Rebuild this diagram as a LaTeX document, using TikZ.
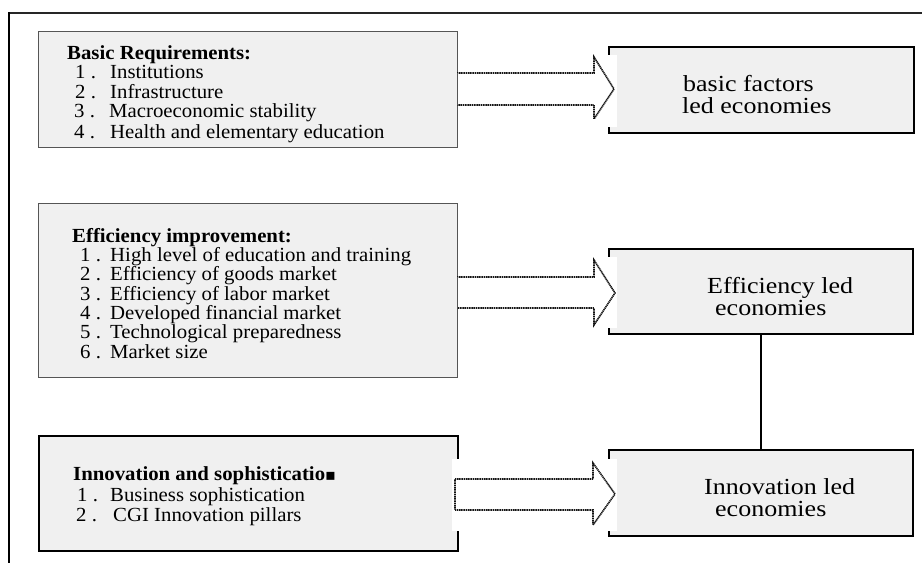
\documentclass[tikz,border=0pt]{standalone}
\usepackage{fontspec}
\setmainfont{Liberation Serif}
\newfontfamily\listfont[FakeStretch=1.04]{Liberation Serif}
\newfontfamily\widefont[FakeStretch=1.13]{Liberation Serif}
\newfontfamily\symfont{DejaVu Sans}
\definecolor{boxfill}{RGB}{240,240,240}
\definecolor{boxline}{RGB}{85,85,85}
\definecolor{arrline}{RGB}{20,20,20}
\begin{document}
\begin{tikzpicture}[x=1pt,y=-1pt,
  graybox/.style={draw=boxline, line width=1pt, fill=boxfill, inner sep=0pt, anchor=north west},
  darkbox/.style={draw=black, line width=1.8pt, fill=boxfill, inner sep=0pt, anchor=north west},
  listtxt/.style={anchor=base west, inner sep=0pt, font=\listfont\fontsize{20}{24}\selectfont},
  headtxt/.style={anchor=base west, inner sep=0pt, font=\listfont\fontsize{20}{24}\selectfont\bfseries},
  bigtxt/.style={anchor=base west, inner sep=0pt, font=\widefont\fontsize{23}{28}\selectfont},
  blockarrow/.style={draw=arrline, dash pattern=on 1.2pt off 0.6pt, line width=1.6pt, fill=white},
  linkline/.style={draw=black, line width=1.5pt}]
\useasboundingbox (0,0) rectangle (922,563);
% outer frame
\draw[line width=1.8pt, black!85] (9,13) -- (922,13);
\draw[line width=1.8pt, black] (9,12.1) -- (9,563);

% left boxes
\node[graybox, minimum width=419pt, minimum height=116pt] (b1) at (38,31) {};
\node[graybox, minimum width=419pt, minimum height=174pt] (b3) at (38,203) {};
\node[darkbox, minimum width=419pt, minimum height=115pt] (b6) at (38,435) {};
% right boxes
\node[darkbox, minimum width=305pt, minimum height=86pt] (b2) at (608,46) {};
\node[darkbox, minimum width=304pt, minimum height=85pt] (b4) at (608,248) {};
\node[darkbox, minimum width=304pt, minimum height=86pt] (b5) at (608,449) {};

% connector
\draw[linkline] (b4.south) -- (b5.north);

% arrows (white ground, then block arrow)
\fill[white] (457.6,55) rectangle (617,127);
\draw[blockarrow] (457,73) -- (594,73) -- (594,57) -- (614,89) -- (594,119) -- (594,105) -- (457,105);
\draw[boxline, line width=0.7pt] (457,73) -- (457,105);

\fill[white] (457.6,257) rectangle (617,328);
\draw[blockarrow] (457,277) -- (594,277) -- (594,260) -- (615,293) -- (594,325) -- (594,308) -- (457,308);
\draw[boxline, line width=0.7pt] (457,277) -- (457,308);

\fill[white] (452,459) rectangle (617,531);
\draw[blockarrow] (455,479) -- (593,479) -- (593,463) -- (615,494) -- (593,525) -- (593,510) -- (455,510) -- cycle;

% box 1 text
\node[headtxt] (h1) at (67,59) {Basic Requirements:};
\node[listtxt] (n11) at (75,78) {1 .};   \node[listtxt] (t11) at (110,78) {Institutions};
\node[listtxt] (n12) at (75,98) {2 .};   \node[listtxt] (t12) at (110,98) {Infrastructure};
\node[listtxt] (n13) at (74,117) {3 .};  \node[listtxt] (t13) at (109,117) {Macroeconomic stability};
\node[listtxt] (n14) at (74,138) {4 .};  \node[listtxt] (t14) at (110,138) {Health and elementary education};

% box 3 text
\node[headtxt] (h3) at (72,242) {Efficiency improvement:};
\node[listtxt] (n31) at (80,261) {1 .};  \node[listtxt] (t31) at (110,261) {High level of education and training};
\node[listtxt] (n32) at (80,280.5) {2 .};\node[listtxt] (t32) at (110,280.5) {Efficiency of goods market};
\node[listtxt] (n33) at (80,300) {3 .};  \node[listtxt] (t33) at (110,300) {Efficiency of labor market};
\node[listtxt] (n34) at (80,319.5) {4 .};\node[listtxt] (t34) at (110,319.5) {Developed financial market};
\node[listtxt] (n35) at (80,338.5) {5 .};\node[listtxt] (t35) at (110,338.5) {Technological preparedness};
\node[listtxt] (n36) at (80,358.5) {6 .};\node[listtxt] (t36) at (110,358.5) {Market size};

% box 6 text
\node[headtxt] (h6) at (73,480.5) {Innovation and sophisticatio{\symfont\fontsize{16}{20}\selectfont ▪}};
\node[listtxt] (n61) at (77,501.7) {1 .};  \node[listtxt] (t61) at (110,501.7) {Business sophistication};
\node[listtxt] (n62) at (76,521.7) {2 .};  \node[listtxt] (t62) at (113,521.7) {CGI Innovation pillars};

% right box texts
\node[bigtxt] (r21) at (683,91.5) {basic factors};
\node[bigtxt] (r22) at (682,113) {led economies};
\node[bigtxt] (r41) at (707,293.5) {Efficiency led};
\node[bigtxt] (r42) at (715,315) {economies};
\node[bigtxt] (r51) at (704,494.5) {Innovation led};
\node[bigtxt] (r52) at (715,516) {economies};
\end{tikzpicture}
\end{document}
